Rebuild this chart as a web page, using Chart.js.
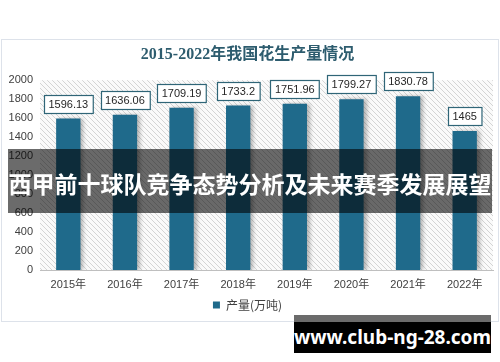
<!DOCTYPE html>
<html lang="zh">
<head>
    <meta charset="UTF-8">
    <title>2015-2022年我国花生产量情况</title>
    <script src="https://cdn.jsdelivr.net/npm/chart.js"></script>
    <style>
        body {
            margin: 0;
            width: 500px;
            height: 362px;
            background: #fff;
            position: relative;
            overflow: hidden;
        }
        .chart-box {
            position: absolute;
            left: 1px;
            top: 39px;
            width: 498px;
            height: 283px;
            box-sizing: border-box;
            border: 1px solid #dde2ea;
        }
        .banner {
            position: absolute;
            left: 8px;
            top: 149px;
            width: 484px;
            height: 64px;
            background: rgba(0, 0, 0, 0.58);
            color: #fff;
            font: bold 23px "Noto Sans CJK SC", sans-serif;
            line-height: 68px;
            text-align: center;
            white-space: nowrap;
            overflow: hidden;
        }
        .site {
            position: absolute;
            left: 294px;
            top: 315px;
            width: 197px;
            height: 38px;
            background: linear-gradient(#6b6b6b 0, #6b6b6b 7px, #000 7px);
            color: #fff;
            font: bold 19px "Noto Sans", sans-serif;
            line-height: 45px;
            text-align: center;
        }
    </style>
</head>
<body>
    <div class="chart-box">
        <canvas id="peanutChart" width="496" height="281"></canvas>
    </div>
    <div class="banner">西甲前十球队竞争态势分析及未来赛季发展展望</div>
    <div class="site">www.club-ng-28.com</div>

    <script>
        // 数据
        const years = ['2015年', '2016年', '2017年', '2018年', '2019年', '2020年', '2021年', '2022年'];
        const output = [1596.13, 1636.06, 1709.19, 1733.2, 1751.96, 1799.27, 1830.78, 1465];
        const yMin = 0;
        const yMax = 2000;
        const yStep = 200;

        const barColor = '#1f6a8b';

        // 斜纹背景
        function makeHatch() {
            const c = document.createElement('canvas');
            c.width = 5;
            c.height = 5;
            const g = c.getContext('2d');
            g.fillStyle = '#fafafa';
            g.fillRect(0, 0, 5, 5);
            g.strokeStyle = '#d4d4d4';
            g.lineWidth = 1;
            g.beginPath();
            g.moveTo(-1, -1);
            g.lineTo(6, 6);
            g.moveTo(-1, 4);
            g.lineTo(1, 6);
            g.moveTo(4, -1);
            g.lineTo(6, 1);
            g.stroke();
            return c;
        }

        const hatchBg = {
            id: 'hatchBg',
            beforeDraw(chart) {
                const { ctx, chartArea: a } = chart;
                ctx.save();
                ctx.fillStyle = ctx.createPattern(makeHatch(), 'repeat');
                ctx.fillRect(a.left, a.top, a.right - a.left, a.bottom - a.top);
                ctx.restore();
            }
        };

        // 柱子阴影
        const barShadow = {
            id: 'barShadow',
            beforeDatasetDraw(chart) {
                const ctx = chart.ctx;
                ctx.save();
                ctx.shadowColor = 'rgba(0,0,0,0.28)';
                ctx.shadowBlur = 4;
                ctx.shadowOffsetX = 3;
                ctx.shadowOffsetY = 0;
            },
            afterDatasetDraw(chart) {
                chart.ctx.restore();
            }
        };

        // 数值标签框
        const valueBoxes = {
            id: 'valueBoxes',
            afterDatasetsDraw(chart) {
                const ctx = chart.ctx;
                const meta = chart.getDatasetMeta(0);
                ctx.save();
                ctx.font = '11px "Liberation Sans", Arial, sans-serif';
                ctx.textAlign = 'center';
                ctx.textBaseline = 'middle';
                meta.data.forEach((bar, i) => {
                    const text = String(output[i]);
                    const w = ctx.measureText(text).width + 9;
                    const h = 18;
                    const bottom = bar.y - 6;
                    const x = Math.round(bar.x - w / 2) + 0.5;
                    const y = Math.round(bottom - h) + 0.5;
                    ctx.fillStyle = '#fff';
                    ctx.fillRect(x, y, w, h);
                    ctx.strokeStyle = '#2f6577';
                    ctx.lineWidth = 1.2;
                    ctx.strokeRect(x, y, w, h);
                    ctx.fillStyle = '#262626';
                    ctx.fillText(text, bar.x, y + h / 2 + 0.5);
                });
                ctx.restore();
            }
        };

        window.onload = function() {
            new Chart(document.getElementById('peanutChart'), {
                type: 'bar',
                data: {
                    labels: years,
                    datasets: [{
                        label: '产量(万吨)',
                        data: output,
                        backgroundColor: barColor,
                        borderWidth: 0,
                        categoryPercentage: 1,
                        barPercentage: 0.43
                    }]
                },
                options: {
                    responsive: false,
                    animation: false,
                    layout: { padding: { left: 0, right: 5, top: 0, bottom: 0 } },
                    plugins: {
                        title: {
                            display: true,
                            text: '2015-2022年我国花生产量情况',
                            color: '#2d5c6e',
                            font: { family: '"Liberation Serif", "Noto Sans CJK SC", serif', size: 16, weight: 'bold' },
                            padding: { top: 5, bottom: 16 }
                        },
                        legend: {
                            position: 'bottom',
                            labels: {
                                boxWidth: 7,
                                boxHeight: 7,
                                padding: 0,
                                color: '#404040',
                                font: { family: '"Noto Sans CJK SC", sans-serif', size: 12 }
                            }
                        },
                        tooltip: { enabled: false }
                    },
                    scales: {
                        x: {
                            grid: { display: false, drawTicks: false },
                            border: { color: '#bfbfbf', width: 1 },
                            ticks: {
                                color: '#404040',
                                padding: 8,
                                maxRotation: 0,
                                font: { family: '"Liberation Sans", "Noto Sans CJK SC", sans-serif', size: 11 }
                            },
                            afterFit(scale) { scale.height = 29; }
                        },
                        y: {
                            min: yMin,
                            max: yMax,
                            grid: { display: false, drawTicks: false },
                            border: { display: false },
                            ticks: {
                                stepSize: yStep,
                                padding: 7,
                                color: '#404040',
                                font: { family: '"Liberation Sans", sans-serif', size: 11 },
                                callback: v => String(v)
                            },
                            afterFit(scale) { scale.width = 38; }
                        }
                    }
                },
                plugins: [hatchBg, barShadow, valueBoxes]
            });
        };
    </script>
</body>
</html>
